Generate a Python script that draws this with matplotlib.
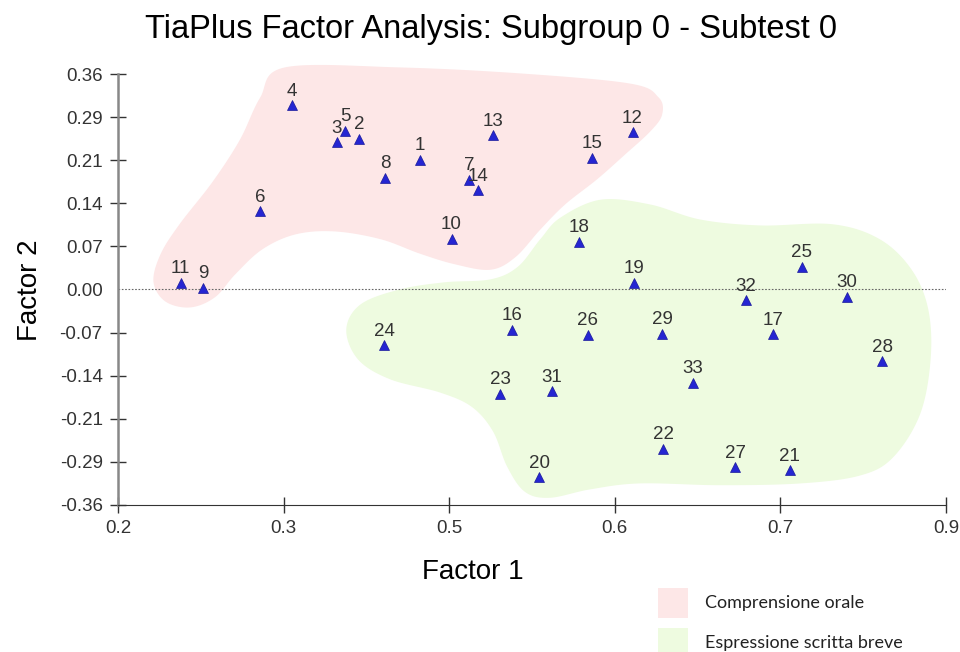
import numpy as np
import matplotlib
matplotlib.use("Agg")
import matplotlib.pyplot as plt
from matplotlib.patches import Rectangle

# item loadings
items = list(range(1, 34))
factor1 = [0.455, 0.404, 0.385, 0.347, 0.392, 0.320, 0.497, 0.426, 0.272, 0.482,
           0.253, 0.635, 0.517, 0.504, 0.601, 0.533, 0.754, 0.590, 0.636, 0.556,
           0.768, 0.661, 0.523, 0.425, 0.778, 0.597, 0.722, 0.846, 0.660, 0.816,
           0.567, 0.731, 0.686]
factor2 = [0.217, 0.252, 0.246, 0.308, 0.265, 0.131, 0.183, 0.187, 0.003, 0.085,
           0.011, 0.263, 0.258, 0.166, 0.220, -0.067, -0.075, 0.080, 0.011, -0.314,
           -0.302, -0.266, -0.174, -0.093, 0.038, -0.076, -0.297, -0.120, -0.074, -0.012,
           -0.170, -0.018, -0.156]

x_ticks = [0.2, 0.34, 0.48, 0.62, 0.76, 0.9]
x_labels = ["0.2", "0.3", "0.5", "0.6", "0.7", "0.9"]
y_ticks = [0.36, 0.288, 0.216, 0.144, 0.072, 0.0, -0.072, -0.144, -0.216, -0.288, -0.36]
y_labels = ["0.36", "0.29", "0.21", "0.14", "0.07", "0.00", "-0.07", "-0.14", "-0.21", "-0.29", "-0.36"]

# highlighted regions (outline anchors, data units)
region_names = ["Comprensione orale", "Espressione scritta breve"]
region_colors = ["#fde7e7", "#eefbe0"]
oral_x = [0.341, 0.438, 0.540, 0.633, 0.657, 0.660, 0.650, 0.629, 0.605, 0.578,
          0.557, 0.536, 0.515, 0.485, 0.455, 0.422, 0.383, 0.350, 0.322, 0.299,
          0.282, 0.261, 0.240, 0.230, 0.236, 0.252, 0.280, 0.303, 0.320]
oral_y = [0.371, 0.371, 0.361, 0.344, 0.321, 0.292, 0.264, 0.226, 0.184, 0.142,
          0.100, 0.054, 0.033, 0.042, 0.060, 0.084, 0.097, 0.092, 0.067, 0.025,
          -0.013, -0.030, -0.020, 0.013, 0.059, 0.109, 0.180, 0.250, 0.320]
written_x = [0.574, 0.608, 0.650, 0.692, 0.743, 0.804, 0.844, 0.871, 0.885, 0.887,
             0.878, 0.855, 0.827, 0.777, 0.709, 0.641, 0.599, 0.565, 0.544, 0.529,
             0.517, 0.499, 0.472, 0.430, 0.403, 0.393, 0.405, 0.438, 0.476, 0.515,
             0.538, 0.557]
written_y = [0.120, 0.150, 0.142, 0.117, 0.107, 0.109, 0.084, 0.033, -0.033, -0.117,
             -0.209, -0.281, -0.311, -0.324, -0.327, -0.324, -0.334, -0.348, -0.338, -0.296,
             -0.237, -0.196, -0.172, -0.150, -0.117, -0.067, -0.025, 0.0, 0.012, 0.017,
             0.038, 0.084]


def smooth_closed(xs, ys, n=24):
    pts = np.column_stack([xs, ys])
    N = len(pts)
    t = np.linspace(0, 1, n, endpoint=False)[:, None]
    out = []
    for i in range(N):
        p0, p1, p2, p3 = pts[(i - 1) % N], pts[i], pts[(i + 1) % N], pts[(i + 2) % N]
        out.append(0.5 * (2 * p1 + (-p0 + p2) * t
                          + (2 * p0 - 5 * p1 + 4 * p2 - p3) * t ** 2
                          + (-p0 + 3 * p1 - 3 * p2 + p3) * t ** 3))
    return np.vstack(out)


plt.rcParams['font.family'] = ['Liberation Sans', 'DejaVu Sans']

W, H = 960, 652
fig = plt.figure(figsize=(W / 100, H / 100), dpi=100)
ax = fig.add_axes([0.1229, 0.2255, 0.8625, 0.661])

for (rx, ry), col in zip([(oral_x, oral_y), (written_x, written_y)], region_colors):
    shape = smooth_closed(rx, ry)
    ax.fill(shape[:, 0], shape[:, 1], color=col, lw=0, zorder=0, clip_on=False)

ax.axhline(0, color='#666666', lw=0.8, ls=(0, (1.5, 1.5)), zorder=1)

ax.plot(factor1, factor2, ls='none', marker='^', ms=7.5, color='#2525d2',
        mec='#1a1a99', mew=0.5, zorder=3)
for it, x, y in zip(items, factor1, factor2):
    ax.annotate(str(it), (x, y), xytext=(0, 4), textcoords='offset points',
                ha='center', va='bottom', fontsize=13.5, color='#333333', zorder=4)

ax.set_xlim(0.2, 0.9)
ax.set_ylim(-0.36, 0.36)
ax.set_xticks(x_ticks)
ax.set_xticklabels(x_labels)
ax.set_yticks(y_ticks)
ax.set_yticklabels(y_labels)
ax.tick_params(direction='inout', length=12, width=1, labelsize=13.5,
               colors='#333333', pad=5)
ax.yaxis.get_major_ticks()[5].tick1line.set_visible(False)

for s in ['top', 'right']:
    ax.spines[s].set_visible(False)
ax.spines['bottom'].set_color('#333333')
ax.spines['left'].set_color('#888888')
ax.spines['left'].set_linewidth(1.8)
ax.set_facecolor('none')

fig.suptitle("TiaPlus Factor Analysis: Subgroup 0 - Subtest 0", x=0.511, y=0.955,
             va='center', fontsize=23.5)
fig.text(473 / W, 1 - 572 / H, "Factor 1", ha='center', va='center', fontsize=20)
fig.text(30 / W, 1 - 290 / H, "Factor 2", ha='center', va='center',
         rotation=90, fontsize=20)

# legend for the highlighted regions
for i, (name, col) in enumerate(zip(region_names, region_colors)):
    top = 588 + 40 * i
    fig.add_artist(Rectangle((658 / W, 1 - (top + 30) / H), 30 / W, 30 / H,
                             transform=fig.transFigure, facecolor=col, edgecolor='none'))
    fig.text(705 / W, 1 - (top + 15) / H, name, ha='left', va='center',
             family='Lato', fontsize=13, color='#222222')

fig.savefig("out.png", dpi=100)
